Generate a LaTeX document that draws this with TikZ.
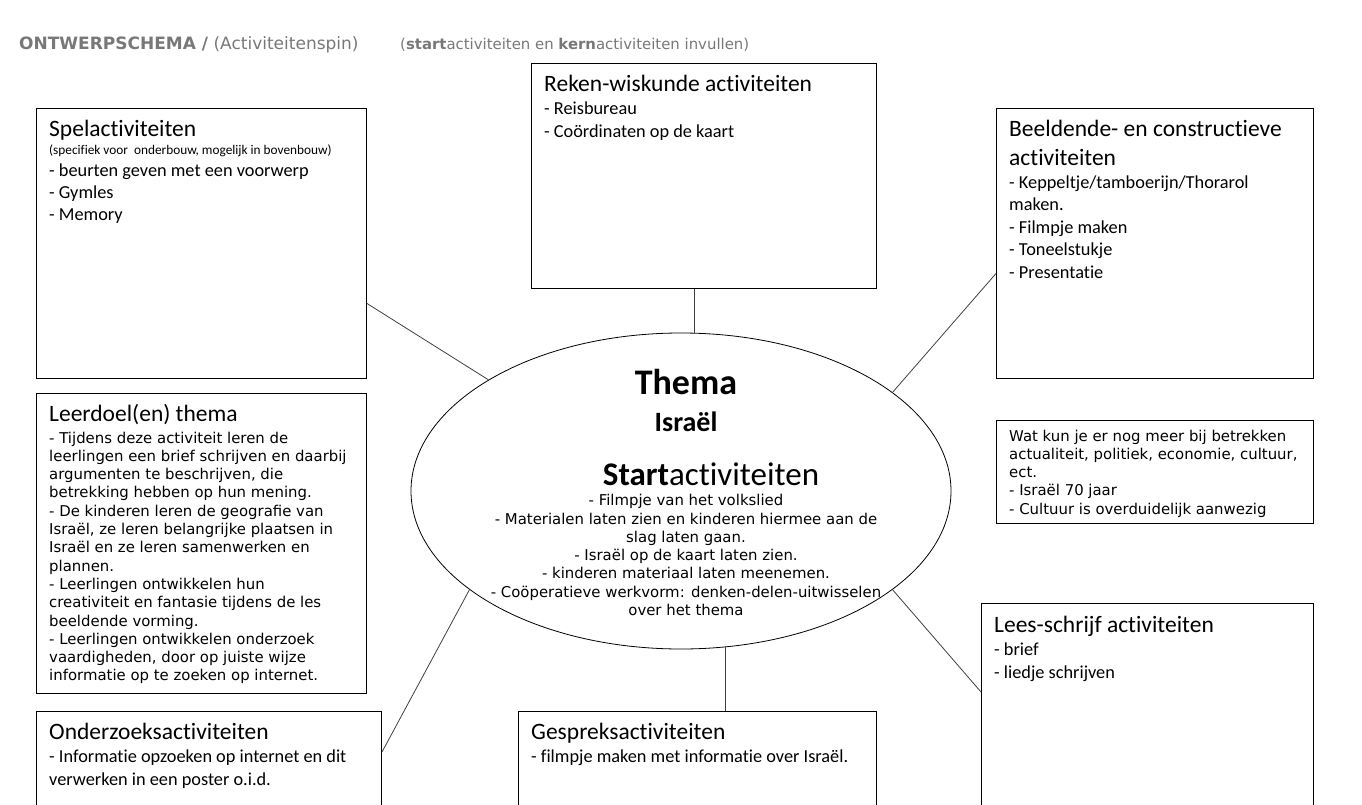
\documentclass[tikz,border=0pt]{standalone}
\usepackage{fontspec}
\setmainfont{Carlito}[Ligatures=NoCommon]
\newfontfamily\verdfont{DejaVu Sans}
\usepackage{xcolor}
\usetikzlibrary{shapes.geometric}
\definecolor{titlegray}{RGB}{120,120,120}
\newcommand{\boxhead}{\fontsize{23.5}{28}\selectfont}
\newcommand{\boxbody}{\fontsize{18.3}{22.5}\selectfont}
\newcommand{\verdbody}{\verdfont\fontsize{14.9}{18.3}\selectfont}
\tikzset{
  actbox/.style={draw, line width=1pt, anchor=north west, inner sep=0pt},
  boxtext/.style={anchor=base west, inner sep=0pt},
  spoke/.style={line width=0.8pt, black!75}
}

\begin{document}
\begin{tikzpicture}[x=1pt,y=-1pt]
\clip (0,0) rectangle (1362,805);
% titel
\node[anchor=base west, inner sep=0pt, text=titlegray] (titel) at (19,50) {\verdfont\fontsize{17}{20}\selectfont\textbf{ONTWERPSCHEMA /} (Activiteitenspin)};
\node[anchor=base west, inner sep=0pt, text=titlegray] (titelHint) at (400,50) {\verdfont\fontsize{14.9}{17}\selectfont(\textbf{start}activiteiten en \textbf{kern}activiteiten invullen)};

% kaders
\node[actbox, minimum width=330pt, minimum height=270pt] (spel) at (36,108) {};
\node[actbox, minimum width=345pt, minimum height=225pt] (reken) at (531,63) {};
\node[actbox, minimum width=317pt, minimum height=270pt] (beeld) at (996,108) {};
\node[actbox, minimum width=317pt, minimum height=103pt] (watkun) at (996,420) {};
\node[actbox, minimum width=330pt, minimum height=300pt] (leerdoel) at (36,393) {};
\node[actbox, minimum width=345pt, minimum height=130pt] (onder) at (36,711) {};
\node[actbox, minimum width=358pt, minimum height=130pt] (gespr) at (518,711) {};
\node[actbox, minimum width=332pt, minimum height=240pt] (lees) at (981,603) {};

% thema in het midden
\node[ellipse, draw, line width=0.8pt, inner sep=0pt, minimum width=540pt, minimum height=316pt] (thema) at (681,491) {};
\node[anchor=base, inner sep=0pt] (themaText) at (686,394) {\begin{minipage}[t]{480pt}\centering
{\fontsize{36}{40}\selectfont\bfseries Thema\par}
{\fontsize{28}{37.7}\selectfont\bfseries Israël\par}
{\fontsize{33}{53.5}\selectfont\hspace*{50pt}\textbf{Start}activiteiten\par}
{\verdfont\fontsize{14.9}{20.5}\selectfont - Filmpje van het volkslied\par}
{\verdbody - Materialen laten zien en kinderen hiermee aan de\\
slag laten gaan.\\
- Israël op de kaart laten zien.\\
- kinderen materiaal laten meenemen.\\
- Coöperatieve werkvorm: denken-delen-uitwisselen\\
over het thema\par}
\end{minipage}};

% teksten in de kaders
\node[boxtext] (spelText) at (49,137) {\begin{minipage}[t]{310pt}\raggedright
{\boxhead Spelactiviteiten\par}
{\fontsize{13.3}{18}\selectfont (specifiek voor\ \ onderbouw, mogelijk in bovenbouw)\par}
{\fontsize{18.3}{22}\selectfont - beurten geven met een voorwerp\\
- Gymles\\
- Memory\par}
\end{minipage}};
\node[boxtext] (rekenText) at (544,92) {\begin{minipage}[t]{320pt}\raggedright
{\boxhead Reken-wiskunde activiteiten\par}
{\fontsize{18.3}{23}\selectfont - Reisbureau\\
- Coördinaten op de kaart\par}
\end{minipage}};
\node[boxtext] (beeldText) at (1009,137) {\begin{minipage}[t]{300pt}\raggedright
{\fontsize{23.5}{29}\selectfont Beeldende- en constructieve\\
activiteiten\par}
{\boxbody - Keppeltje/tamboerijn/Thorarol\\
maken.\\
- Filmpje maken\\
- Toneelstukje\\
- Presentatie\par}
\end{minipage}};
\node[boxtext] (watkunText) at (1009,441) {\begin{minipage}[t]{300pt}\raggedright
\verdbody Wat kun je er nog meer bij betrekken\\
actualiteit, politiek, economie, cultuur,\\
ect.\\
- Israël 70 jaar\\
- Cultuur is overduidelijk aanwezig
\end{minipage}};
\node[boxtext] (leerdoelText) at (49,421.7) {\begin{minipage}[t]{315pt}\raggedright
{\boxhead Leerdoel(en) thema\par}
{\verdfont\fontsize{14.9}{21.3}\selectfont - Tijdens deze activiteit leren de\par}
{\verdbody leerlingen een brief schrijven en daarbij\\
argumenten te beschrijven, die\\
betrekking hebben op hun mening.\\
- De kinderen leren de geografie van\\
Israël, ze leren belangrijke plaatsen in\\
Israël en ze leren samenwerken en\\
plannen.\\
- Leerlingen ontwikkelen hun\\
creativiteit en fantasie tijdens de les\\
beeldende vorming.\\
- Leerlingen ontwikkelen onderzoek\\
vaardigheden, door op juiste wijze\\
informatie op te zoeken op internet.\par}
\end{minipage}};
\node[boxtext] (onderText) at (49,739) {\begin{minipage}[t]{330pt}\raggedright
{\boxhead Onderzoeksactiviteiten\par}
{\fontsize{18.3}{23}\selectfont - Informatie opzoeken op internet en dit\\
verwerken in een poster o.i.d.\par}
\end{minipage}};
\node[boxtext] (gesprText) at (531,739) {\begin{minipage}[t]{340pt}\raggedright
{\boxhead Gespreksactiviteiten\par}
{\fontsize{18.3}{23}\selectfont - filmpje maken met informatie over Israël.\par}
\end{minipage}};
\node[boxtext] (leesText) at (994,632) {\begin{minipage}[t]{315pt}\raggedright
{\boxhead Lees-schrijf activiteiten\par}
{\fontsize{18.3}{23}\selectfont - brief\\
- liedje schrijven\par}
\end{minipage}};

% spaken
\draw[spoke] ([yshift=-60pt]spel.east) -- (thema.150);
\draw[spoke] (thema.85) -- (thema.85 |- reken.south);
\draw[spoke] ([yshift=-30pt]beeld.west) -- (thema.25);
\draw[spoke] ([yshift=-41pt]onder.north east) -- (thema.205);
\draw[spoke] (thema.286) -- (thema.286 |- gespr.north);
\draw[spoke] ([yshift=-89pt]lees.north west) -- (thema.335);
\end{tikzpicture}
\end{document}
